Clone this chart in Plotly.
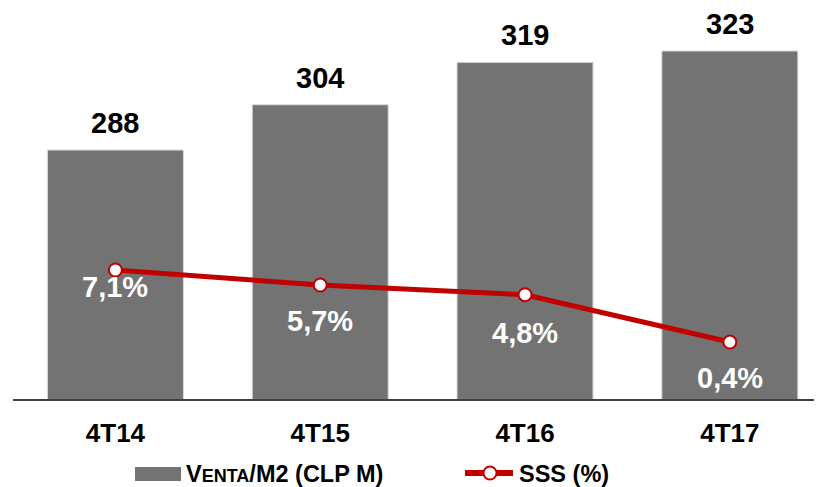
import plotly.graph_objects as go

categories = ["4T14", "4T15", "4T16", "4T17"]
venta_m2 = [288, 304, 319, 323]
sss = [7.1, 5.7, 4.8, 0.4]
sss_labels = ["7,1%", "5,7%", "4,8%", "0,4%"]
sss_label_shift = [-17, -36, -38, -36]

FONT = "Liberation Sans, Arial, sans-serif"
RED = "#C00000"
GREY = "#737373"

# figure geometry (page has an 8px body margin)
W, H = 814, 479
L, R, T, B = 5, 0, 0, 88
PW, PH = W - L - R, H - T - B


def px(x):
    return (x - 8 - L) / PW


def py(y):
    return (T + PH - (y - 8)) / PH


fig = go.Figure()
fig.add_trace(go.Bar(
    x=categories, y=venta_m2, name="Venta/M2 (CLP M)",
    marker=dict(color=GREY, line=dict(color="#d9d9d9", width=1)),
    width=0.664, showlegend=False,
))
fig.add_trace(go.Scatter(
    x=categories, y=sss, name="SSS (%)", yaxis="y2", mode="lines+markers",
    line=dict(color=RED, width=5),
    marker=dict(size=13, color="white", line=dict(color=RED, width=2)),
    showlegend=False,
))
for c, v in zip(categories, venta_m2):
    fig.add_annotation(x=c, y=v, text=str(v), showarrow=False, yanchor="middle", yshift=27,
                       font=dict(family=FONT, size=29, color="black", weight="bold"))
for c, v, t, s in zip(categories, sss, sss_labels, sss_label_shift):
    fig.add_annotation(x=c, y=v, yref="y2", text=t, showarrow=False, yanchor="middle", yshift=s,
                       font=dict(family=FONT, size=29, color="white", weight="bold"))

# legend
fig.add_shape(type="rect", xref="paper", yref="paper",
              x0=px(135), x1=px(181), y0=py(481), y1=py(467),
              fillcolor=GREY, line=dict(width=0))
fig.add_annotation(xref="paper", yref="paper", x=px(184), y=py(474), xanchor="left", yanchor="middle",
                   showarrow=False,
                   text="V<span style='font-size:18px'>ENTA</span>/M2 (CLP M)",
                   font=dict(family=FONT, size=23.5, color="black", weight="bold"))
fig.add_shape(type="line", xref="paper", yref="paper",
              x0=px(465), x1=px(513), y0=py(473), y1=py(473),
              line=dict(color=RED, width=6))
fig.add_shape(type="circle", xref="paper", yref="paper",
              x0=px(483.5), x1=px(496.5), y0=py(479.5), y1=py(466.5),
              fillcolor="white", line=dict(color=RED, width=2))
fig.add_annotation(xref="paper", yref="paper", x=px(517), y=py(474), xanchor="left", yanchor="middle",
                   showarrow=False, text="SSS (%)",
                   font=dict(family=FONT, size=23.5, color="black", weight="bold"))

fig.update_layout(
    width=W, height=H,
    margin=dict(l=L, r=R, t=T, b=B),
    paper_bgcolor="white", plot_bgcolor="white",
    font=dict(family=FONT, color="black"),
    xaxis=dict(range=[-0.5, 3.45], showline=True, linecolor="#404040", linewidth=1.5,
               ticks="", showgrid=False, ticklabelstandoff=10,
               tickfont=dict(family=FONT, size=26, color="black", weight="bold")),
    yaxis=dict(range=[200, 338.2], visible=False, showgrid=False),
    yaxis2=dict(range=[-4.9, 31.47], overlaying="y", visible=False, showgrid=False),
    showlegend=False,
)
fig.write_html("out.html")
